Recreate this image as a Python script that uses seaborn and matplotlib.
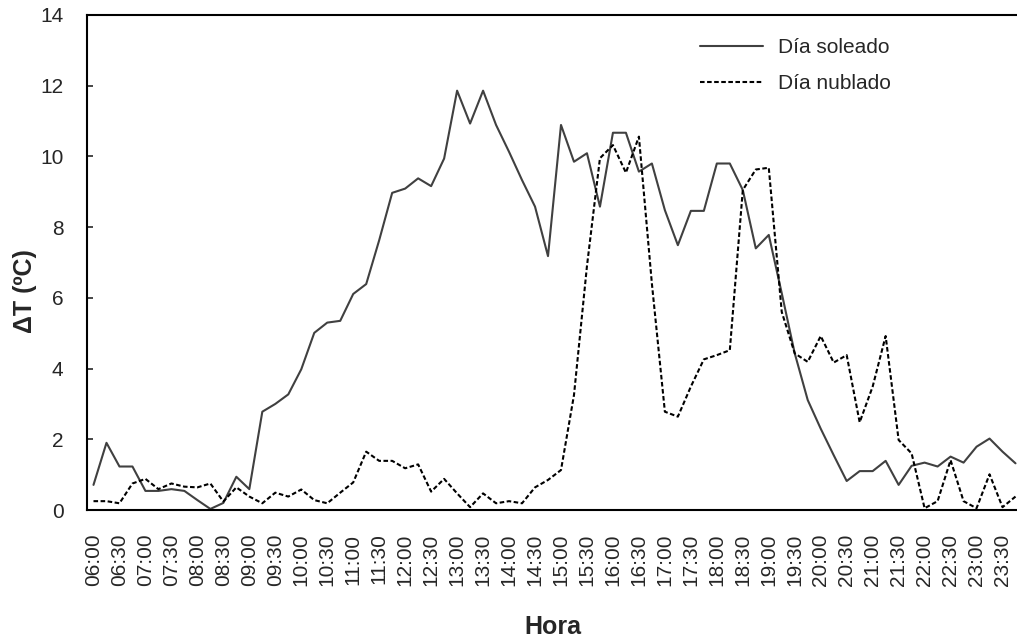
import numpy as np
import pandas as pd
import matplotlib
matplotlib.use("Agg")
import matplotlib.pyplot as plt
import seaborn as sns

# time of day, every 15 minutes from 06:00 to 23:45
horas = [f"{h:02d}:{m:02d}" for h in range(6, 24) for m in (0, 15, 30, 45)]

# temperature difference (ºC)
soleado = [
    0.71, 1.90, 1.23, 1.23, 0.54, 0.54, 0.59, 0.54, 0.28, 0.03, 0.20, 0.94,
    0.59, 2.78, 3.00, 3.27, 3.98, 5.01, 5.30, 5.35, 6.11, 6.39, 7.63, 8.97,
    9.09, 9.38, 9.16, 9.94, 11.86, 10.93, 11.86, 10.89, 10.13, 9.33, 8.58, 7.18,
    10.89, 9.85, 10.09, 8.58, 10.67, 10.67, 9.57, 9.80, 8.48, 7.49, 8.46, 8.46,
    9.80, 9.80, 9.05, 7.40, 7.78, 6.13, 4.43, 3.11, 2.30, 1.55, 0.82, 1.10,
    1.10, 1.39, 0.71, 1.25, 1.34, 1.23, 1.51, 1.34, 1.79, 2.02, 1.65, 1.32,
]
nublado = [
    0.25, 0.25, 0.19, 0.75, 0.88, 0.59, 0.75, 0.66, 0.64, 0.75, 0.24, 0.64,
    0.38, 0.19, 0.49, 0.38, 0.58, 0.28, 0.19, 0.49, 0.78, 1.65, 1.39, 1.39,
    1.18, 1.29, 0.52, 0.88, 0.47, 0.08, 0.47, 0.19, 0.25, 0.19, 0.64, 0.85,
    1.13, 3.25, 6.90, 9.95, 10.32, 9.54, 10.56, 6.40, 2.78, 2.64, 3.49, 4.26,
    4.38, 4.52, 9.05, 9.63, 9.68, 5.60, 4.43, 4.19, 4.92, 4.17, 4.38, 2.48,
    3.49, 4.92, 1.98, 1.60, 0.05, 0.25, 1.41, 0.25, 0.05, 1.01, 0.08, 0.38,
]
series = ["Día soleado", "Día nublado"]

df = pd.DataFrame({
    "i": list(range(len(horas))) * 2,
    "hora": horas * 2,
    "dT": soleado + nublado,
    "serie": [series[0]] * len(horas) + [series[1]] * len(horas),
})

sns.set_style("white")
plt.rcParams["font.family"] = ["Liberation Sans", "DejaVu Sans"]

fig = plt.figure(figsize=(10.17, 6.41), dpi=100)
ax = fig.add_axes([87 / 1017, 1 - 510 / 641, 935 / 1017, 495 / 641])

sns.lineplot(data=df, x="i", y="dT", hue="serie", style="serie",
             palette={series[0]: "#404040", series[1]: "black"},
             dashes={series[0]: "", series[1]: (2.2, 1.2)},
             linewidth=1.5, ax=ax)

ax.set_xlim(-0.5, len(horas) - 0.5)
ax.set_ylim(0, 14)
ax.set_yticks(range(0, 15, 2))
ax.set_xticks(range(0, len(horas), 2))
ax.set_xticklabels(horas[::2], rotation=90)
ax.tick_params(axis="y", direction="in", length=4, width=1.2, pad=17,
               labelsize=15, left=True)
ax.tick_params(axis="x", length=0, pad=17, labelsize=15)
for s in ax.spines.values():
    s.set_color("black")
    s.set_linewidth(1.5)
ax.set_xlabel("")
ax.set_ylabel("")

fig.text(553 / 1017, 1 - 627 / 641, "Hora", fontsize=18, fontweight="bold",
         ha="center", va="center")
fig.text(25 / 1017, 1 - 291 / 641, "ΔT (ºC)", fontsize=18, fontweight="bold",
         rotation=90, ha="center", va="center")

ax.legend(loc="upper left", bbox_to_anchor=(690 / 1017, 1 - 28 / 641),
          bbox_transform=fig.transFigure, frameon=False, fontsize=15,
          borderpad=0, handlelength=3.0, handletextpad=0.7, labelspacing=0.8,
          title=None)

fig.savefig("out.png", dpi=100)
